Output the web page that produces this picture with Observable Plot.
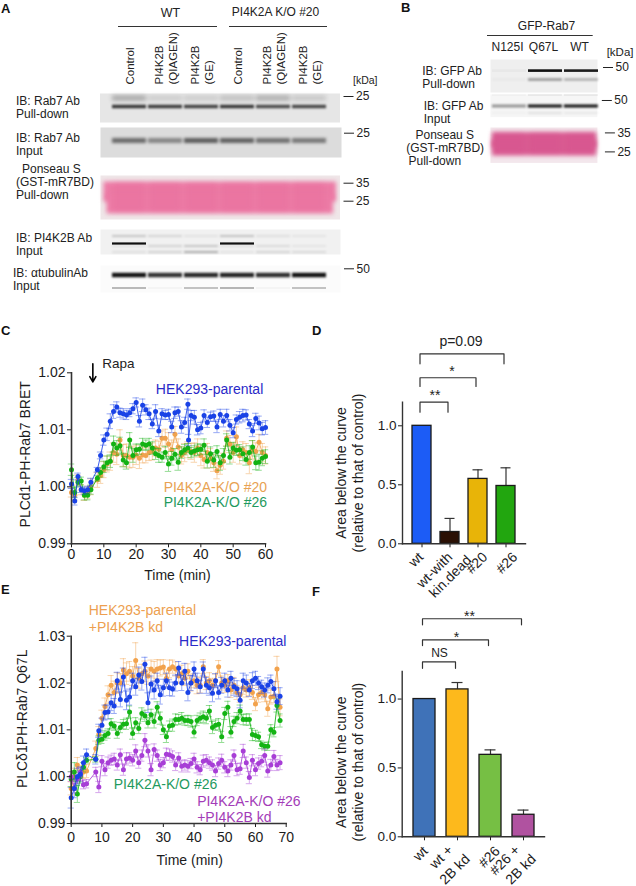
<!DOCTYPE html>
<html><head><meta charset="utf-8">
<style>
html,body{margin:0;padding:0;background:#fff}
#page{position:relative;width:636px;height:886px;overflow:hidden;font-family:"Liberation Sans",Arial,sans-serif}
#page>svg{position:absolute;overflow:visible;background:transparent;max-width:none}
.letter{position:absolute;font:bold 13px "Liberation Sans",Arial,sans-serif;color:#111}
</style>
<script src="https://cdn.jsdelivr.net/npm/d3@7"></script>
<script src="https://cdn.jsdelivr.net/npm/@observablehq/plot@0.6"></script>
</head><body><div id="page"></div>
<script>
// ---------- Blot lanes and band densities
const lanesA = [1,2,3,4,5,6];
const laneLabelsA = ["Control","PI4K2B\n(QIAGEN)","PI4K2B\n(GE)","Control","PI4K2B\n(QIAGEN)","PI4K2B\n(GE)"];
const lanesB = ["N125I","Q67L","WT"];
const rab7PullMain = [.82,.8,.76,.82,.72,.74];
const rab7PullSmear = [.3,.12,.12,.18,.28,.15];
const rab7InputMain = [.55,.42,.62,.6,.52,.48];
const pi4k2bMain = [1,0,0,1,0,0];
const pi4k2bUpper = [.28,.18,.1,.3,.12,.08];
const pi4k2bMid = [.1,.2,.28,.12,.14,.08];
const pi4k2bLow = [.12,.2,.42,.08,.18,.14];
const tubulinMain = [1,.85,.9,.93,.88,1];
const tubulinLow = [.4,.04,.35,.42,.04,.35];
const gfpPullMain = [.03,1,.95];
const gfpPullLow = [.03,.42,.3];
const gfpInputMain = [.42,1,1];
const gfpInputUp = [.04,.1,.1];
const gfpInputLow = [.04,.12,.08];

// ---------- Panel C
const timeC = [0,1,2,3,4,5,6,8,9,10,11,12,13,14,15,16,17,18,19,20,21,22,23,24,25,26,27,28,29,30,31,32,33,34,35,36,37,38,39,40,41,42,43,44,45,46,47,48,49,50,51,52,53,54,55,56,57,58,59,60];
const timeCBlue = [0,1,2,3,4,5,6,8,9,10,11,12,13,14,15,16,17,18,19,20,21,22,23,24,25,26,27,28,29,30,31,32,33,34,35,36,36.2,37,38,39,40,41,42,43,44,45,46,47,48,49,50,51,52,53,54,55,56,57,58,59,60];
const parentalC = [1.0005,.9975,1.0018,.9995,.9993,.9995,1.0008,1.003,1.0055,1.0082,1.0092,1.0115,1.0132,1.014,1.013,1.0128,1.0126,1.013,1.0137,1.0148,1.0115,1.0143,1.0135,1.0128,1.011,1.0132,1.0098,1.0128,1.0126,1.0127,1.0105,1.013,1.0132,1.0105,1.0113,1.0145,1.0082,1.0125,1.0122,1.01,1.0103,1.0125,1.0113,1.0123,1.0124,1.0105,1.0127,1.0115,1.0125,1.0108,1.0095,1.0118,1.0122,1.0125,1.0126,1.011,1.0098,1.012,1.0112,1.0102,1.0104];
const parentalCErr = [8,7,6,5,6,6,7,4,6,9,11,13,12,9,8,9,8,7,9,8,10,11,9,10,8,12,10,9,8,9,10,10,8,11,9,9,10,9,12,9,10,10,9,8,9,10,9,10,11,10,9,8,10,11,9,8,10,9,12,11,12];
const ko20C = [.999,.9985,1.0012,.9995,.9985,.999,1.0,1.0012,1.002,1.003,1.004,1.0045,1.006,1.0057,1.0082,1.0055,1.0055,1.0052,1.0052,1.0056,1.005,1.0056,1.0055,1.006,1.0062,1.0068,1.0066,1.0085,1.0085,1.0075,1.0065,1.0092,1.007,1.0055,1.006,1.0065,1.0062,1.006,1.0068,1.0055,1.0048,1.006,1.005,1.0042,1.0028,1.0038,1.0045,1.0085,1.0075,1.006,1.0088,1.0055,1.0065,1.006,1.0042,1.0065,1.0062,1.0078,1.006,1.0055];
const ko20CErr = [8,8,9,9,9,11,14,13,14,14,14,16,17,18,18,19,20,19,18,17,18,14,13,14,15,14,14,13,16,20,17,14,14,15,16,14,14,17,16,18,15,16,17,15,14,16,14,13,15,17,17,15,14,16,19,16,15,14,16,15];
const ko26C = [1.003,.999,1.0008,1.001,.9985,.9985,.9995,1.0015,1.0025,1.0035,1.0042,1.0045,1.0075,1.0068,1.0072,1.0047,1.0042,1.0082,1.0055,1.0065,1.0066,1.0075,1.0073,1.0075,1.0068,1.0058,1.0055,1.0052,1.006,1.004,1.005,1.0057,1.0043,1.006,1.0065,1.0068,1.006,1.0063,1.0065,1.0066,1.0073,1.0045,1.0058,1.0047,1.0062,1.0042,1.0055,1.0082,1.0052,1.0068,1.0064,1.0065,1.0058,1.0048,1.006,1.007,1.0042,1.0043,1.005,1.0053];
const ko26CErr = [10,9,8,7,8,8,8,5,8,10,12,11,14,13,15,12,11,13,12,10,9,10,9,10,11,10,12,9,11,13,12,10,14,10,9,8,9,9,10,9,11,12,12,13,10,13,12,11,12,10,9,9,12,10,12,11,12,14,13,12];

// ---------- Panel E
const timeE = [0,1,2,3,4,5,8,9,10,11,12,13,14,15,16,17,18,19,20,21,22,23,24,25,26,27,28,29,30,31,32,33,34,35,36,37,38,39,40,41,42,43,44,45,46,47,48,49,50,51,52,53,54,55,56,57,58,59,60,61,62,63,64,65,66,67,68];
const parentalE = [.9955,.9975,1.0,1.0005,1.003,1.0047,1.0037,1.0098,1.011,1.0137,1.0138,1.0158,1.0151,1.0205,1.0165,1.0213,1.0163,1.017,1.0205,1.0192,1.0217,1.0203,1.024,1.0158,1.0198,1.0185,1.0205,1.0175,1.019,1.0205,1.019,1.0187,1.02,1.0232,1.02,1.0225,1.018,1.02,1.023,1.0205,1.0192,1.023,1.0195,1.019,1.0178,1.0205,1.018,1.0195,1.0205,1.0185,1.021,1.0192,1.0188,1.0163,1.0205,1.02,1.0185,1.0205,1.021,1.02,1.0192,1.0185,1.0195,1.0203,1.0188,1.016,1.0172];
const parentalEErr = [22,20,18,16,14,12,10,14,15,16,15,17,16,18,16,19,20,17,16,18,17,18,15,21,17,19,16,20,18,16,17,15,17,14,16,17,18,16,15,16,14,15,17,16,18,15,14,17,16,15,15,18,17,16,16,17,14,17,15,14,14,15,16,14,15,16,18];
const parentalKdE = [.9975,1.0,1.0025,1.0005,1.001,1.0012,1.006,1.009,1.0125,1.015,1.0175,1.0195,1.018,1.02,1.02,1.0228,1.022,1.0225,1.0215,1.0248,1.021,1.022,1.0225,1.0215,1.023,1.0225,1.023,1.0232,1.0234,1.021,1.023,1.0235,1.023,1.0215,1.022,1.021,1.0225,1.02,1.0205,1.0195,1.0195,1.0235,1.02,1.0205,1.0195,1.0205,1.0235,1.02,1.0195,1.0205,1.0185,1.0195,1.018,1.0175,1.019,1.0185,1.019,1.018,1.0155,1.0175,1.018,1.0175,1.0145,1.017,1.0172,1.023,1.0148];
const parentalKdEErr = [14,18,16,15,14,14,16,17,17,18,19,21,24,22,20,24,23,21,20,38,21,20,22,18,19,21,20,17,16,18,19,14,15,16,18,15,16,17,15,18,16,15,14,17,15,14,13,15,15,13,16,17,15,16,14,15,17,15,14,16,14,15,16,15,14,27,18];
const koE = [.9995,1.001,.9963,1.0,1.002,1.0035,1.0037,1.0078,1.008,1.0088,1.0092,1.0113,1.0108,1.0092,1.0105,1.0112,1.0113,1.0138,1.0092,1.0115,1.0103,1.0135,1.013,1.0115,1.0132,1.0118,1.0148,1.0125,1.01,1.0085,1.0108,1.011,1.0122,1.0122,1.0125,1.012,1.012,1.0118,1.0095,1.012,1.0125,1.0128,1.0125,1.014,1.0105,1.011,1.0112,1.0085,1.0135,1.0148,1.0095,1.0118,1.0125,1.014,1.0122,1.0122,1.0122,1.009,1.0088,1.0085,1.0068,1.0065,1.0065,1.01,1.0095,1.0152,1.012];
const koEErr = [16,20,18,14,10,6,6,9,9,10,10,11,9,10,11,10,12,13,12,11,11,12,12,11,12,14,12,13,10,12,11,13,12,11,12,10,11,12,12,11,11,12,12,12,13,11,12,12,13,13,12,11,12,13,11,12,12,13,11,10,8,8,9,11,10,14,14];
const koKdE = [1.0,.9975,.9995,1.001,.9983,.9985,1.001,.9978,1.0033,1.0015,1.003,1.0035,1.0038,1.0025,1.0047,1.0015,1.0038,1.004,1.0035,1.0055,1.003,1.0045,1.0078,1.0055,1.0015,1.0058,1.0045,1.0025,1.003,1.0048,1.0047,1.0043,1.0025,1.004,1.0022,1.0025,1.0022,1.0028,1.0038,1.002,1.0015,1.0033,1.0035,1.003,1.0025,1.0012,1.0028,1.0035,1.002,1.0012,1.0025,1.0045,1.0015,1.0017,1.0055,1.003,.9998,1.0035,1.0015,1.0028,1.0033,1.0045,1.0012,1.0025,1.0043,1.0025,1.003];
const koKdEErr = [10,10,9,9,9,9,10,12,12,13,12,11,12,11,12,12,13,11,12,13,12,12,14,13,13,12,12,12,11,13,12,12,12,11,12,11,12,11,12,12,11,13,12,12,11,12,12,13,12,12,11,12,13,12,14,12,13,12,13,12,12,14,13,12,13,12,15];

// ---------- Panels D, F
const catD = ["wt","wt-with","#20","#26"];
const valD = [1.0,.10,.55,.49];
const errD = [0,.115,.077,.154];
const colD = ["#1c5cf6","#2a1004","#e8b408","#22a60f"];
const catF = ["wt","wt +","#26","#26 +"];
const valF = [1.0,1.07,.595,.16];
const errF = [0,.05,.036,.034];
const colF = ["#3f72b8","#fdb91c","#76bf44","#b052a0"];

// ---------- helpers
const page = document.getElementById("page");
const INK = "#1c1c1c";
const FONT = '"Liberation Sans",Arial,sans-serif';
function place(svg,left,top){svg.style.left=left+"px";svg.style.top=top+"px";page.appendChild(svg);return svg;}
function letter(t,x,y){const d=document.createElement("div");d.className="letter";d.textContent=t;d.style.left=x+"px";d.style.top=y+"px";page.appendChild(d);}
function lbl(t,x,y,left,fontSize=12,extra={}){
  return Plot.text([t],{frameAnchor:"top-left",dx:x-left,dy:y,textAnchor:"start",lineAnchor:"middle",lineHeight:1.06,fontSize,fill:"#222",...extra});
}
function gel({left,right,top,H,xr,lanes,bg,rows=[],labels=[],kda=[],kdaDx=3,pink=null}){
  const marks=[Plot.frame({fill:bg,stroke:null})];
  if(pink){
    const mid=(pink.t+H-pink.b)/2;
    marks.push(Plot.frame({fill:pink.color,stroke:null,insetTop:pink.t,insetBottom:H-mid-4,insetLeft:pink.l,insetRight:pink.r,imageFilter:"blur(2px)"}));
    marks.push(Plot.frame({fill:pink.color,stroke:null,insetTop:mid-4,insetBottom:pink.b,insetLeft:pink.l+pink.n,insetRight:pink.r+pink.n,imageFilter:"blur(2px)"}));
    marks.push(Plot.barY(lanes,{x:d=>d,y1:()=>pink.t+2,y2:()=>H-pink.b-2,fill:pink.dark,fillOpacity:.3,insetLeft:2,insetRight:2,imageFilter:"blur(2.5px)"}));
  }
  rows.forEach(r=>{
    const data=lanes.map((l,i)=>({lane:l,y1:r.y-r.h/2,y2:r.y+r.h/2,o:r.v[i]}));
    marks.push(Plot.barY(data,{x:"lane",y1:"y1",y2:"y2",fill:"#111",fillOpacity:"o",imageFilter:`blur(${r.b}px)`}));
  });
  kda.forEach(k=>marks.push(Plot.axisY({anchor:"right",ticks:[k.y],tickFormat:()=>k.t,tickSize:10,tickPadding:3,dx:k.dx??kdaDx,fontSize:12,label:null,stroke:"#222",fill:"#222"})));
  labels.forEach(l=>marks.push(lbl(l.t,l.x,l.y,left)));
  return place(Plot.plot({width:636,height:H,marginLeft:left,marginRight:636-right,marginTop:0,marginBottom:0,style:{background:"transparent",overflow:"visible",fontFamily:FONT},
    x:{type:"band",domain:lanes,range:xr,paddingInner:.06,paddingOuter:0,axis:null},
    y:{domain:[0,H],range:[0,H],axis:null},opacity:{domain:[0,1],range:[0,1]},marks}),0,top);
}

// ---------- Panel A
const xrA=[110,328];
place(Plot.plot({width:636,height:90,marginLeft:100,marginRight:296,marginTop:0,marginBottom:0,style:{background:"transparent",overflow:"visible",fontFamily:FONT},
  x:{type:"band",domain:lanesA,range:xrA,paddingInner:.06,paddingOuter:0,axis:null},y:{domain:[0,90],range:[0,90],axis:null},
  marks:[
    Plot.ruleY([26],{x1:()=>1,x2:()=>3,stroke:"#333",strokeWidth:1,insetLeft:6,insetRight:1}),
    Plot.ruleY([26],{x1:()=>4,x2:()=>6,stroke:"#333",strokeWidth:1,insetLeft:9,insetRight:-1}),
    Plot.text(["WT"],{x:()=>2,y:()=>12,dx:5,fontSize:12.5,fill:"#222"}),
    Plot.text(["PI4K2A K/O #20"],{x:()=>5,y:()=>11.5,dx:2,fontSize:12,fill:"#222"}),
    Plot.text(lanesA,{x:d=>d,y:()=>84,text:(d,i)=>laneLabelsA[i],rotate:-90,textAnchor:"start",lineAnchor:"middle",lineHeight:1.2,fontSize:11.5,fill:"#222"}),
    Plot.text(["[kDa]"],{frameAnchor:"top-right",dx:37,dy:80,textAnchor:"end",lineAnchor:"middle",fontSize:10.5,fill:"#222"})
  ]}),0,0);
gel({left:99.5,right:339.5,top:92.7,H:29,xr:xrA,lanes:lanesA,bg:"#e6e6e6",
  rows:[{y:5,h:5,v:rab7PullSmear,b:2.2},{y:13.5,h:3.5,v:rab7PullMain,b:1.2}],
  labels:[{t:"IB: Rab7 Ab\nPull-down",x:15.5,y:14}],kda:[{y:3,t:"25"}]});
gel({left:100,right:341,top:127,H:30,xr:xrA,lanes:lanesA,bg:"#dcdcdc",
  rows:[{y:13.5,h:5,v:rab7InputMain,b:1.6}],
  labels:[{t:"IB: Rab7 Ab\nInput",x:15.5,y:17}],kda:[{y:5.7,t:"25",dx:2}]});
gel({left:100,right:339.5,top:175,H:44,xr:xrA,lanes:lanesA,bg:"#efe6e8",
  labels:[{t:"Ponseau S",x:21.5,y:-6.5},{t:"(GST-mR7BD)",x:15.5,y:6.5},{t:"Pull-down",x:15.5,y:19.5}],
  kda:[{y:7.7,t:"35",dx:3},{y:25.7,t:"25",dx:3}],pink:{color:"#ec7aa5",dark:"#e96a98",t:6,b:6,l:3,r:4,n:3}});
gel({left:100,right:340,top:229,H:25,xr:xrA,lanes:lanesA,bg:"#f1f1f1",
  rows:[{y:7,h:1.4,v:pi4k2bUpper,b:.8},{y:14.5,h:2.2,v:pi4k2bMain,b:.6},{y:17,h:1.4,v:pi4k2bMid,b:.8},{y:23,h:1.4,v:pi4k2bLow,b:.8}],
  labels:[{t:"IB: PI4K2B Ab\nInput",x:15.5,y:15}]});
gel({left:100,right:340,top:265,H:27,xr:xrA,lanes:lanesA,bg:"#fbfbfb",
  rows:[{y:10,h:4.5,v:tubulinMain,b:1},{y:23,h:1.4,v:tubulinLow,b:.7}],
  labels:[{t:"IB: \u03b1tubulinAb\nInput",x:12.5,y:14}],kda:[{y:3.3,t:"50",dx:3}]});

// ---------- Panel B
const xrB=[492,598];
place(Plot.plot({width:636,height:58,marginLeft:490,marginRight:39,marginTop:0,marginBottom:0,style:{background:"transparent",overflow:"visible",fontFamily:FONT},
  x:{type:"band",domain:lanesB,range:xrB,paddingInner:.06,paddingOuter:0,axis:null},y:{domain:[0,58],range:[0,58],axis:null},
  marks:[
    Plot.ruleY([35],{x1:()=>"N125I",x2:()=>"WT",stroke:"#333",strokeWidth:1,insetLeft:-5,insetRight:5.3}),
    Plot.text(["GFP-Rab7"],{x:()=>"Q67L",y:()=>26,dx:1,fontSize:12,fill:"#222"}),
    Plot.text(lanesB,{x:d=>d,y:()=>47,dx:-2,fontSize:12,fill:"#222"}),
    Plot.text(["[kDa]"],{frameAnchor:"top-right",dx:36,dy:51.7,textAnchor:"end",lineAnchor:"middle",fontSize:11.5,fill:"#222"})
  ]}),0,0);
gel({left:490,right:597,top:58.7,H:33,xr:xrB,lanes:lanesB,bg:"#efefef",
  rows:[{y:11.6,h:2.6,v:gfpPullMain,b:.7},{y:20.5,h:2.4,v:gfpPullLow,b:1}],
  labels:[{t:"IB: GFP Ab\nPull-down",x:421.7,y:18}],kda:[{y:8,t:"50",dx:5}]});
gel({left:490,right:597,top:94,H:22.7,xr:xrB,lanes:lanesB,bg:"#f6f6f6",
  rows:[{y:1,h:1.2,v:gfpInputUp,b:.6},{y:12,h:3,v:gfpInputMain,b:.9},{y:19,h:1.6,v:gfpInputLow,b:1}],
  labels:[{t:"IB: GFP Ab\nInput",x:423.3,y:17.7}],kda:[{y:6,t:"50",dx:4}]});
gel({left:490,right:597,top:127.3,H:35.4,xr:xrB,lanes:lanesB,bg:"#f3e7ec",
  labels:[{t:"Ponseau S",x:415,y:7},{t:"(GST-mR7BD)",x:405.7,y:20},{t:"Pull-down",x:408,y:33}],
  kda:[{y:5.4,t:"35",dx:7},{y:24.4,t:"25",dx:7}],pink:{color:"#da5b92",dark:"#d4508a",t:4.5,b:7.5,l:1.5,r:1.5,n:0}});

// ---------- time-course panels
function layer(t,v,e,color,capW){
  const d=t.map((x,i)=>({t:x,v:v[i],lo:v[i]-e[i]/1e4,hi:v[i]+e[i]/1e4}));
  return [
    Plot.ruleX(d,{x:"t",y1:"lo",y2:"hi",stroke:color,strokeOpacity:.45,strokeWidth:1}),
    Plot.ruleY(d,{y:"hi",x1:p=>p.t-capW,x2:p=>p.t+capW,stroke:color,strokeOpacity:.45,strokeWidth:1}),
    Plot.ruleY(d,{y:"lo",x1:p=>p.t-capW,x2:p=>p.t+capW,stroke:color,strokeOpacity:.45,strokeWidth:1}),
    Plot.line(d,{x:"t",y:"v",stroke:color,strokeWidth:1,strokeOpacity:.85}),
    Plot.dot(d,{x:"t",y:"v",fill:color,r:2.5})
  ];
}
function axesCommon(xTicks,yTicks,tp){return [
  Plot.axisX({ticks:xTicks,tickSize:4,tickPadding:tp,fontSize:14,label:null,stroke:INK,fill:INK}),
  Plot.axisY({ticks:yTicks,tickFormat:".2f",tickSize:4,tickPadding:2,fontSize:14,label:null,stroke:INK,fill:INK}),
  Plot.frame({anchor:"left",stroke:"#333",strokeWidth:1.6}),
  Plot.frame({anchor:"bottom",stroke:"#333",strokeWidth:1.6})
];}

// Panel C
place(Plot.plot({width:320,height:260,marginLeft:71,marginRight:55,marginTop:52.3,marginBottom:36.7,style:{background:"transparent",overflow:"visible",fontFamily:FONT},
  x:{domain:[0,60]},y:{domain:[.99,1.02]},
  marks:[
    ...layer(timeC,ko20C,ko20CErr,"#f0a24e",1),
    ...layer(timeC,ko26C,ko26CErr,"#13b213",1),
    ...layer(timeCBlue,parentalC,parentalCErr,"#1a42e6",1),
    ...axesCommon([0,10,20,30,40,50,60],[.99,1,1.01,1.02],1),
    Plot.arrow([0],{x1:()=>6.6,x2:()=>6.6,y1:()=>1.0216,y2:()=>1.0184,stroke:"#000",strokeWidth:1.6,headLength:7,bend:0}),
    Plot.text(["Rapa"],{x:()=>14.5,y:()=>1.0216,fontSize:13.5,fill:"#222"}),
    Plot.text(["HEK293-parental"],{x:()=>42.7,y:()=>1.017,fontSize:14,fill:"#2a2ac8"}),
    Plot.text(["PI4K2A-K/O #20"],{x:()=>44.5,y:()=>.9998,fontSize:14,fill:"#e8a252"}),
    Plot.text(["PI4K2A-K/O #26"],{x:()=>44.5,y:()=>.9973,fontSize:14,fill:"#1f9a5e"}),
    Plot.text(["PLCd1-PH-Rab7 BRET"],{frameAnchor:"left",textAnchor:"middle",rotate:-90,dx:-46,dy:-4,fontSize:14,fill:INK}),
    Plot.text(["Time (min)"],{frameAnchor:"bottom",dx:9,dy:32,fontSize:14,fill:INK,lineAnchor:"middle"})
  ]}),0,320);

// Panel E
place(Plot.plot({width:320,height:296,marginLeft:70.7,marginRight:34.3,marginTop:45.7,marginBottom:63,style:{background:"transparent",overflow:"visible",fontFamily:FONT},
  x:{domain:[0,70]},y:{domain:[.99,1.03]},
  marks:[
    ...layer(timeE,parentalKdE,parentalKdEErr,"#f2a24c",1),
    ...layer(timeE,koE,koEErr,"#14b414",1),
    ...layer(timeE,koKdE,koKdEErr,"#a73ed6",1),
    ...layer(timeE,parentalE,parentalEErr,"#1a42e6",1),
    ...axesCommon([0,10,20,30,40,50,60,70],[.99,1,1.01,1.02,1.03],5),
    Plot.text(["HEK293-parental\n+PI4K2B kd"],{x:()=>5.7,y:()=>1.0339,textAnchor:"start",lineHeight:1.2,fontSize:14,fill:"#ed9f50"}),
    Plot.text(["HEK293-parental"],{x:()=>52.6,y:()=>1.0289,fontSize:14,fill:"#2a2ac8"}),
    Plot.text(["PI4K2A-K/O #26"],{x:()=>30.7,y:()=>.9983,fontSize:14,fill:"#1f9a5e"}),
    Plot.text(["PI4K2A-K/O #26\n+PI4K2B kd"],{x:()=>41,y:()=>.9932,textAnchor:"start",lineHeight:1.2,fontSize:14,fill:"#a33cb8"}),
    Plot.text(["PLC\u03b41PH-Rab7 Q67L"],{frameAnchor:"left",textAnchor:"middle",rotate:-90,dx:-49,dy:-11,fontSize:14,fill:INK}),
    Plot.text(["Time (min)"],{frameAnchor:"bottom",dx:11,dy:37,fontSize:14,fill:INK,lineAnchor:"middle"})
  ]}),0,590);

// ---------- bar panels
function barPanel({cats,vals,errs,cols,w,h,ml,mr,mt,mb,xr,capInset,brackets,notes,tickLines,left,top,titleDy}){
  const d=cats.map((c,i)=>({c,v:vals[i],e:errs[i],col:cols[i]}));
  const withErr=d.filter(p=>p.e>0);
  const br=brackets.flatMap((b,i)=>[{g:i,x:cats[0],y:b.y-b.tip},{g:i,x:cats[0],y:b.y},{g:i,x:b.to,y:b.y},{g:i,x:b.to,y:b.y-b.tip}]);
  return place(Plot.plot({width:w,height:h,marginLeft:ml,marginRight:mr,marginTop:mt,marginBottom:mb,style:{background:"transparent",overflow:"visible",fontFamily:FONT},
    x:{type:"band",domain:cats,range:xr,paddingInner:1/3,paddingOuter:0,axis:null},
    y:{domain:[0,1.2],axis:null},
    marks:[
      Plot.ruleX(withErr,{x:"c",y1:"v",y2:p=>p.v+p.e,stroke:"#333",strokeWidth:1.2}),
      Plot.tickY(withErr,{x:"c",y:p=>p.v+p.e,stroke:"#333",strokeWidth:1.2,insetLeft:capInset,insetRight:capInset}),
      Plot.barY(d,{x:"c",y:"v",fill:p=>p.col,stroke:"#1a1a1a",strokeWidth:1.3}),
      Plot.axisX({tickSize:4,tickFormat:()=>"",label:null,stroke:INK}),
      Plot.axisY({ticks:[0,.5,1],tickFormat:".1f",tickSize:4,tickPadding:2,fontSize:13.5,label:null,stroke:INK,fill:INK}),
      Plot.frame({anchor:"left",stroke:"#333",strokeWidth:1.4}),
      Plot.frame({anchor:"bottom",stroke:"#333",strokeWidth:1.4}),
      Plot.line(br,{x:"x",y:"y",z:"g",stroke:"#333",strokeWidth:1.2,dx:-2,curve:"linear"}),
      ...notes.map(n=>Plot.text([n.t],{x:()=>n.x,y:()=>n.y,dx:n.dx||0,fontSize:n.fs||14,fill:"#222"})),
      ...tickLines.map(l=>Plot.text([l.t],{x:()=>l.x,y:()=>0,rotate:-45,textAnchor:"end",lineAnchor:"middle",dx:l.dx,dy:l.dy,fontSize:14,fill:INK})),
      Plot.text(["Area below the curve\n(relative to that of control)"],{frameAnchor:"left",textAnchor:"middle",rotate:-90,dx:-53.5,dy:titleDy,lineHeight:1.22,fontSize:14,fill:INK})
    ]}),left,top);
}
barPanel({cats:catD,vals:valD,errs:errD,cols:colD,w:316,h:270,ml:82,mr:111,mt:81.7,mb:46.7,xr:[91.5,195.5],capInset:4.5,left:320,top:320,titleDy:0,
  brackets:[{to:"#26",y:1.61,tip:.085},{to:"#20",y:1.407,tip:.074},{to:"wt-with",y:1.2,tip:.085}],
  notes:[{t:"p=0.09",x:"wt-with",y:1.714,dx:11},{t:"*",x:"wt-with",y:1.46,dx:2},{t:"**",x:"wt",y:1.26,dx:13}],
  tickLines:[{t:"wt",x:"wt",dx:-1,dy:11},{t:"wt-with",x:"wt-with",dx:0,dy:11},{t:"kin.dead",x:"wt-with",dx:19,dy:14},{t:"#20",x:"#20",dx:7,dy:11},{t:"#26",x:"#26",dx:9,dy:11}]});
barPanel({cats:catF,vals:valF,errs:errF,cols:colF,w:316,h:286,ml:81.7,mr:92,mt:71,mb:49.7,xr:[92.7,214],capInset:5.5,left:320,top:600,titleDy:8,
  brackets:[{to:"#26 +",y:1.583,tip:.044},{to:"#26",y:1.43,tip:.042},{to:"wt +",y:1.27,tip:.047}],
  notes:[{t:"**",x:"#26",y:1.6,dx:-21},{t:"*",x:"wt +",y:1.45,dx:-1},{t:"NS",x:"wt",y:1.335,dx:15,fs:12}],
  tickLines:[{t:"wt",x:"wt",dx:1,dy:12},{t:"wt +",x:"wt +",dx:-7,dy:11},{t:"2B kd",x:"wt +",dx:10,dy:20},{t:"#26",x:"#26",dx:7,dy:12},{t:"#26 +",x:"#26 +",dx:-6,dy:11},{t:"2B kd",x:"#26 +",dx:10,dy:20}]});

letter("A",1,1);letter("B",401,0);letter("C",1,323);letter("D",312,323);letter("E",1,582);letter("F",312,584);
</script></body></html>
